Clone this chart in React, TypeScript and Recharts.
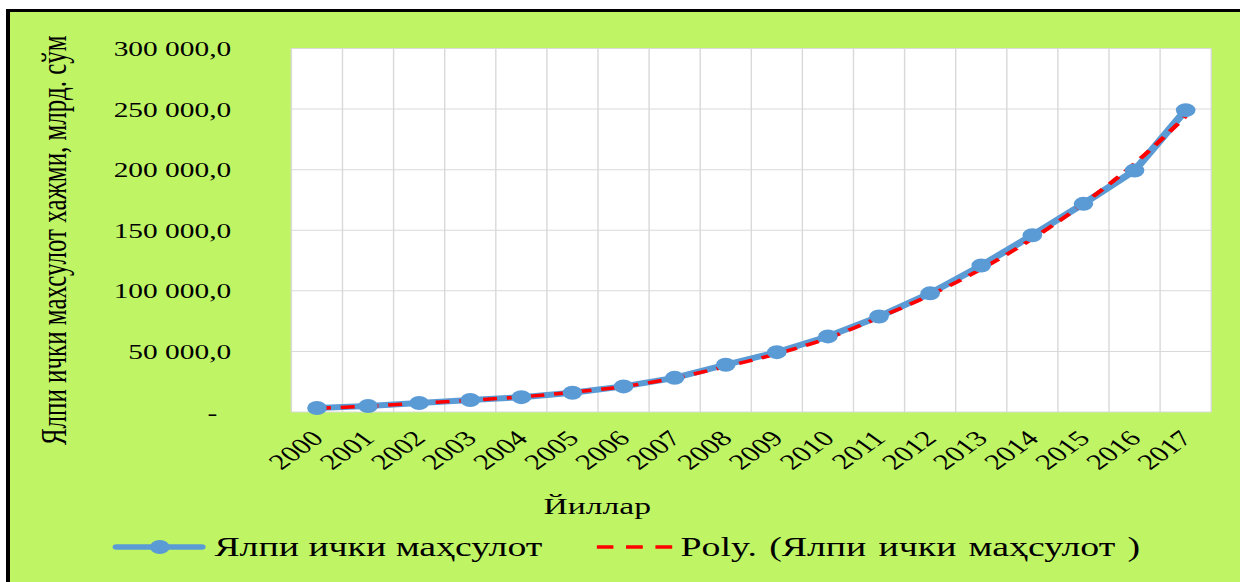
import { LineChart, Line, XAxis, YAxis, CartesianGrid } from 'recharts';

const years = ['2000', '2001', '2002', '2003', '2004', '2005', '2006', '2007', '2008', '2009', '2010', '2011', '2012', '2013', '2014', '2015', '2016', '2017'];
const gdp = [3255.6, 4925.3, 7450.2, 9844.0, 12261.0, 15923.4, 21124.9, 28190.0, 38969.8, 49375.6, 62388.3, 78764.2, 97929.3, 120861.5, 145846.4, 171808.3, 199325.1, 249136.4];
// poly trend
const trend = [3000, 4800, 7200, 9700, 12500, 16300, 21000, 28000, 37500, 48000, 61000, 78000, 96500, 118000, 143000, 172000, 205000, 244000];
const yTicks = [0, 50000, 100000, 150000, 200000, 250000, 300000];

const seriesName = 'Ялпи ички маҳсулот';
const trendName = 'Poly. (Ялпи ички маҳсулот )';
const yTitle = 'Ялпи ички махсулот хажми, млрд. сўм';
const xTitle = 'Йиллар';

const data = years.map((year, i) => ({ year, gdp: gdp[i], trend: trend[i] }));

const FONT = "'Liberation Serif', 'Times New Roman', serif";
const BLUE = '#5B9BD5';
const RED = '#FF0000';
const GREEN = '#BFF465';
const STRETCH = 1.4;
const W = 879;
const H = 570;

const fmt = (v: number) => (v === 0 ? '-' : `${Math.round(v / 1000)} 000,0`);

const YTick = ({ x, y, payload }: any) => (
  <text x={x} y={y} dx={payload.value === 0 ? -10 : 0} dy="0.36em" textAnchor="end" fontFamily={FONT} fontSize={21} fill="#000">
    {fmt(payload.value)}
  </text>
);

const XTick = ({ x, y, payload }: any) => (
  <g transform={`translate(${x},${y})`}>
    <text textAnchor="end" transform="rotate(-45)" dy="0.36em" fontFamily={FONT} fontSize={22} fill="#000">
      {payload.value}
    </text>
  </g>
);

// y title: rotated, centred a little below the plot middle
const YTitle = ({ viewBox }: any) => {
  const cx = viewBox.x + 31;
  const cy = viewBox.y + viewBox.height / 2 + 10;
  return (
    <text x={cx} y={cy} transform={`rotate(-90, ${cx}, ${cy})`} textAnchor="middle" dy="0.36em" fontFamily={FONT} fontSize={25} fill="#000">
      {yTitle}
    </text>
  );
};

const XTitle = ({ viewBox }: any) => {
  const cx = viewBox.x + viewBox.width / 2 - 110;
  return (
    <text x={cx} y={viewBox.y + 93} textAnchor="middle" dy="0.36em" fontFamily={FONT} fontSize={24} fill="#000">
      {xTitle}
    </text>
  );
};

const legendText: React.CSSProperties = {
  position: 'absolute',
  fontFamily: FONT,
  fontSize: 27,
  color: '#000',
  whiteSpace: 'nowrap',
  lineHeight: '30px',
  top: 520,
};

export default function App() {
  return (
    <div
      style={{
        position: 'fixed',
        left: 6,
        top: 9,
        right: 0,
        bottom: 0,
        borderTop: '3px solid #000',
        borderLeft: '4px solid #000',
        background: GREEN,
        overflow: 'hidden',
      }}
    >
      <div style={{ position: 'relative', width: W, height: H, transform: `scaleX(${STRETCH})`, transformOrigin: 'left top' }}>
        <LineChart width={W} height={H} data={data} margin={{ top: 36.5, right: 21, bottom: 0, left: 0 }}>
          <CartesianGrid
            fill="#fff"
            stroke="#D9D9D9"
            strokeWidth={1}
            verticalCoordinatesGenerator={({ offset }: any) =>
              years.map((_, i) => offset.left + (i * offset.width) / years.length).concat(offset.left + offset.width)
            }
          />
          <XAxis
            dataKey="year"
            scale="band"
            height={170}
            tickLine={false}
            axisLine={false}
            tickSize={0}
            tickMargin={22}
            interval={0}
            tick={<XTick />}
            label={XTitle}
          />
          <YAxis
            width={201}
            domain={[0, 300000]}
            ticks={yTicks}
            tickLine={false}
            axisLine={false}
            tickSize={0}
            tickMargin={43}
            tick={<YTick />}
            label={YTitle}
          />
          <Line
            type="linear"
            dataKey="gdp"
            stroke={BLUE}
            strokeWidth={6}
            dot={{ r: 7, fill: BLUE, stroke: 'none' }}
            activeDot={false}
            isAnimationActive={false}
          />
          <Line
            type="monotone"
            dataKey="trend"
            stroke={RED}
            strokeWidth={3.5}
            strokeDasharray="10 7"
            dot={false}
            activeDot={false}
            isAnimationActive={false}
          />
        </LineChart>

        <svg style={{ position: 'absolute', left: 73, top: 527 }} width={67} height={16}>
          <line x1={3} y1={8} x2={64} y2={8} stroke={BLUE} strokeWidth={5.5} strokeLinecap="round" />
          <circle cx={34} cy={8} r={7} fill={BLUE} />
        </svg>
        <div style={{ ...legendText, left: 146 }}>{seriesName}</div>

        <svg style={{ position: 'absolute', left: 419, top: 527 }} width={56} height={16}>
          <line x1={0} y1={8} x2={56} y2={8} stroke={RED} strokeWidth={3.5} strokeDasharray="12 9" />
        </svg>
        <div style={{ ...legendText, left: 479, wordSpacing: 2 }}>{trendName}</div>
      </div>
    </div>
  );
}
